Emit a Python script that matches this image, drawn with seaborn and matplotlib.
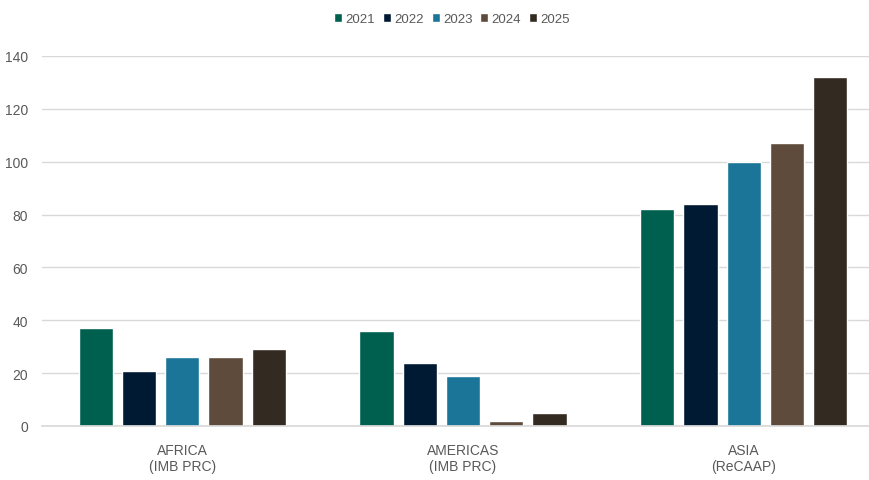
import matplotlib
matplotlib.use("Agg")
import matplotlib.pyplot as plt
import seaborn as sns
import pandas as pd

regions = ["AFRICA\n(IMB PRC)", "AMERICAS\n(IMB PRC)", "ASIA\n(ReCAAP)"]
years = ["2021", "2022", "2023", "2024", "2025"]
values_2021 = [37, 36, 82]
values_2022 = [21, 24, 84]
values_2023 = [26, 19, 100]
values_2024 = [26, 2, 107]
values_2025 = [29, 5, 132]
colors = ["#00604F", "#001A33", "#1A7599", "#5E4B3C", "#332A21"]

series = [values_2021, values_2022, values_2023, values_2024, values_2025]
df = pd.DataFrame(
    [(r, y, v) for y, vals in zip(years, series) for r, v in zip(regions, vals)],
    columns=["region", "year", "incidents"],
)

sns.set_theme(style="white")
plt.rcParams["font.family"] = ["Liberation Sans", "DejaVu Sans"]

fig = plt.figure(figsize=(8.7, 4.81), dpi=100)
ax = fig.add_axes([42 / 870, 54 / 481, 828 / 870, 370 / 481])

sns.barplot(
    data=df, x="region", y="incidents", hue="year", hue_order=years,
    palette=colors, width=0.77, gap=0.21, ax=ax, saturation=1, legend=True,
)

ax.set_ylim(0, 140)
ax.set_xlim(-0.5, 2.45)
ax.set_yticks(range(0, 141, 20))
ax.yaxis.grid(True, color="#d9d9d9", linewidth=1)
ax.set_axisbelow(True)
for s in ["top", "right", "left"]:
    ax.spines[s].set_visible(False)
ax.spines["bottom"].set_color("#d9d9d9")
ax.set_xlabel("")
ax.set_ylabel("")
ax.tick_params(axis="both", length=0, colors="#595959", labelsize=10)
ax.tick_params(axis="x", pad=12)
ax.tick_params(axis="y", pad=10)

handles, labels = ax.get_legend_handles_labels()
ax.legend_.remove()
fig.legend(
    handles, labels, loc="center", bbox_to_anchor=(452 / 870, 1 - 20 / 481),
    ncol=5, frameon=False, fontsize=9.5, handlelength=0.6, handleheight=0.6,
    handletextpad=0.25, columnspacing=0.6, labelcolor="#595959",
)

fig.savefig("out.png", dpi=100)
